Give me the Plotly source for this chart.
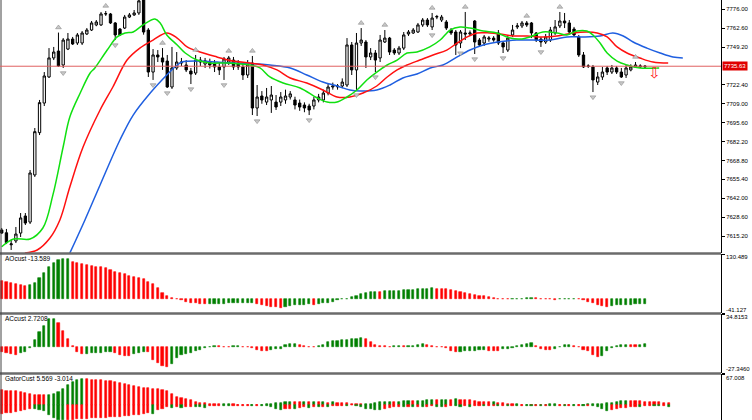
import plotly.graph_objects as go

W, H = 752, 420
AX = 721  # right axis pixel

# ---------------- DATA ----------------
opens = [7619.5,7617.5,7609.0,7611.7,7617.3,7629.4,7625.1,7658.5,7688.5,7709.5,
 7728.0,7741.5,7746.4,7736.5,7747.8,7754.9,7752.1,7752.1,7758.5,7761.3,
 7764.9,7764.9,7772.7,7772.7,7766.3,7762.0,7762.7,7770.5,7772.0,7773.4,
 7784.0,7761.3,7731.5,7743.6,7741.5,7739.3,7720.9,7734.4,7737.9,7736.5,
 7732.2,7730.8,7738.6,7737.2,7738.6,7737.9,7735.1,7735.1,7738.6,7740.0,
 7737.9,7735.1,7729.4,7737.9,7706.0,7714.5,7710.2,7711.7,7710.2,7710.2,
 7711.7,7713.8,7711.7,7709.5,7708.1,7707.4,7707.4,7711.7,7711.7,7716.6,
 7720.9,7721.0,7721.6,7722.3,7750.7,7733.0,7752.1,7752.8,7742.2,7745.0,
 7741.5,7752.8,7755.6,7747.1,7745.0,7748.5,7758.5,7759.2,7759.9,7764.9,
 7768.4,7763.5,7770.5,7768.4,7767.0,7761.3,7759.9,7752.1,7759.2,7758.5,
 7767.7,7754.2,7752.1,7754.9,7755.6,7759.2,7752.1,7747.1,7757.8,7763.5,
 7764.2,7766.3,7766.3,7759.2,7754.9,7752.8,7754.2,7759.2,7764.2,7767.7,
 7766.3,7762.0,7756.4,7743.6,7735.8,7735.1,7724.4,7728.0,7734.4,7731.5,
 7734.4,7731.5,7729.4,7733.0,7735.1,7735.1,7735.1]
highs = [7620.9,7620.2,7612.4,7621.6,7631.5,7631.5,7662.0,7691.8,7711.7,7731.5,
 7748.5,7749.3,7759.5,7755.6,7759.2,7756.4,7759.2,7760.6,7762.7,7767.7,
 7768.4,7774.1,7774.8,7773.4,7767.0,7762.7,7772.0,7773.4,7775.5,7785.0,
 7790.0,7762.7,7747.8,7747.1,7748.5,7743.6,7749.3,7745.7,7741.5,7740.0,
 7734.4,7743.6,7742.2,7741.5,7741.0,7740.0,7738.6,7742.2,7742.9,7742.2,
 7740.0,7737.9,7740.0,7742.9,7722.3,7718.0,7720.2,7721.6,7715.2,7717.3,
 7719.0,7718.0,7714.0,7712.0,7710.0,7709.0,7714.0,7716.0,7719.0,7723.0,
 7724.0,7723.0,7727.0,7755.6,7752.8,7759.2,7762.7,7754.2,7748.5,7747.1,
 7757.8,7761.3,7756.4,7748.5,7750.0,7759.9,7761.3,7762.7,7766.3,7769.8,
 7769.8,7773.4,7772.0,7772.0,7768.4,7762.7,7761.3,7761.3,7774.1,7761.0,
 7768.4,7755.6,7757.8,7757.0,7757.0,7761.3,7753.5,7757.8,7764.9,7766.3,
 7767.7,7767.7,7767.0,7759.9,7756.4,7758.5,7763.5,7768.4,7774.1,7773.4,
 7768.4,7763.5,7757.8,7745.7,7737.0,7736.5,7731.5,7735.1,7735.8,7736.5,
 7735.8,7734.4,7736.5,7737.0,7738.6,7737.0,7736.5]
lows = [7616.6,7609.5,7605.3,7610.2,7614.5,7623.0,7623.7,7657.1,7686.8,7707.4,
 7727.3,7740.0,7735.1,7734.4,7747.1,7750.7,7750.7,7750.7,7757.8,7760.6,
 7764.0,7764.2,7771.3,7765.6,7754.2,7757.1,7762.0,7769.8,7771.3,7772.0,
 7758.0,7728.0,7725.9,7738.6,7733.0,7720.2,7719.5,7733.0,7735.8,7731.5,
 7723.0,7729.4,7735.8,7734.4,7734.0,7731.5,7729.4,7725.9,7736.5,7733.0,
 7733.0,7725.9,7727.3,7701.0,7700.3,7709.0,7708.1,7702.5,7704.6,7707.4,
 7709.0,7712.0,7705.0,7704.0,7703.0,7701.0,7705.0,7710.0,7710.0,7715.0,
 7719.0,7719.0,7720.0,7720.9,7729.4,7718.8,7750.0,7734.4,7740.0,7731.5,
 7738.6,7752.1,7743.6,7743.6,7743.6,7747.1,7757.1,7758.5,7759.2,7763.5,
 7763.5,7761.3,7769.0,7767.0,7761.3,7757.8,7743.6,7748.5,7754.2,7757.0,
 7744.3,7749.3,7750.0,7753.0,7753.0,7750.7,7745.0,7745.7,7756.4,7762.0,
 7762.7,7763.5,7755.6,7752.8,7749.3,7751.4,7752.8,7757.8,7762.7,7762.7,
 7757.8,7756.4,7742.2,7734.4,7734.4,7717.3,7722.3,7725.9,7729.4,7730.1,
 7730.1,7727.3,7727.3,7732.0,7734.4,7734.4,7734.4]
closes = [7617.3,7610.5,7609.6,7616.6,7628.0,7624.4,7659.9,7689.2,7709.8,7728.7,
 7741.5,7745.7,7735.8,7754.2,7754.9,7751.4,7757.8,7759.2,7761.3,7766.3,
 7767.0,7772.7,7772.9,7766.3,7757.8,7757.8,7770.5,7772.0,7773.4,7782.0,
 7759.9,7731.5,7743.6,7742.2,7738.6,7720.9,7734.4,7738.6,7738.6,7733.0,
 7730.1,7740.0,7740.0,7739.5,7736.5,7735.1,7733.0,7740.8,7741.5,7735.1,
 7735.1,7729.4,7736.5,7706.0,7713.8,7711.7,7713.8,7715.2,7706.7,7713.8,
 7714.5,7716.0,7708.1,7706.7,7706.0,7704.6,7711.7,7713.8,7716.6,7720.9,
 7721.6,7721.6,7724.4,7750.7,7733.0,7752.1,7754.2,7742.2,7745.0,7740.0,
 7754.2,7755.6,7745.7,7745.0,7748.5,7757.8,7759.9,7761.3,7764.9,7768.4,
 7764.9,7769.8,7770.9,7770.5,7762.7,7759.2,7750.7,7759.9,7758.5,7759.2,
 7752.8,7750.7,7756.4,7755.6,7754.2,7752.1,7749.3,7755.6,7761.3,7764.2,
 7766.3,7764.9,7759.2,7754.2,7752.8,7756.4,7761.3,7763.5,7767.7,7766.3,
 7759.9,7757.8,7743.6,7735.1,7735.6,7725.9,7728.0,7731.5,7731.5,7734.4,
 7731.5,7728.0,7734.4,7735.1,7736.5,7735.8,7735.63]

fractal_up = [12, 22, 34, 41, 48, 53, 76, 81, 91, 98, 111, 118, 134]
fractal_down = [13, 24, 32, 35, 40, 47, 54, 65, 75, 79, 91, 97, 100, 106, 114, 125, 131]

# Alligator lines (bar position, price)
lips_x = [0, 2.5, 6.0, 8.7, 10.8, 13.0, 14.4, 16.6, 18.7, 19.7, 22.3, 24.4, 26.1, 27.8, 29.9,
          32.4, 33.5, 34.9, 37.1, 38.8, 41.3, 44.0, 47.6, 50.4, 52.5, 54.6, 56.7, 59.5, 63.1,
          66.7, 68.8, 70.9, 73.0, 75.1, 77.2, 79.3, 81.5, 83.6, 85.7, 87.8, 90.5, 92.7, 94.8,
          96.9, 99.0, 101.8, 104.7, 107.5, 109.6, 111.7, 114.4, 117.4, 119.5, 121.6, 123.7,
          125.0, 126.5, 128.0, 130.1, 132.2, 134.9, 139.0]
lips_y = [7607.6, 7613.1, 7613.1, 7620.9, 7644.0, 7678.5, 7699.6, 7716.6, 7730.8, 7734.4,
          7747.1, 7756.4, 7759.2, 7759.9, 7764.9, 7769.1, 7766.3, 7757.8, 7750.7, 7745.0,
          7740.0, 7737.9, 7737.9, 7737.2, 7736.5, 7734.4, 7728.0, 7723.7, 7720.2, 7713.1,
          7710.2, 7710.2, 7713.8, 7718.8, 7725.9, 7731.5, 7736.5, 7740.0, 7745.0, 7745.7,
          7749.3, 7754.2, 7761.3, 7763.5, 7762.7, 7760.6, 7759.2, 7755.6, 7754.9, 7756.4,
          7759.9, 7759.2, 7757.8, 7760.6, 7760.6, 7757.8, 7752.1, 7745.0, 7739.3, 7736.5,
          7734.4, 7734.4]
teeth_x = [4.9, 7.5, 10.2, 12.3, 14.4, 17.2, 20.8, 23.5, 26.5, 29.2, 32.0, 34.9, 37.1, 39.2,
           41.9, 45.5, 48.9, 52.5, 55.2, 58.2, 61.0, 64.5, 67.9, 70.9, 73.6, 76.4, 79.3, 81.5,
           83.6, 85.7, 88.4, 91.2, 94.1, 96.3, 98.4, 100.5, 103.2, 105.3, 108.1, 111.1, 114.4,
           117.4, 120.8, 123.7, 125.9, 128.0, 130.1, 132.2, 134.9, 137.7, 140.9]
teeth_y = [7603.1, 7605.3, 7613.8, 7626.6, 7650.0, 7678.3, 7704.6, 7720.9, 7740.0, 7748.5,
           7754.2, 7759.2, 7755.6, 7749.3, 7745.7, 7742.2, 7739.3, 7737.9, 7736.5, 7733.0,
           7727.3, 7723.7, 7718.8, 7713.8, 7713.8, 7716.6, 7721.6, 7728.0, 7733.0, 7736.5,
           7740.0, 7743.6, 7747.1, 7752.1, 7756.4, 7759.2, 7759.2, 7758.5, 7757.1, 7757.1,
           7756.4, 7757.1, 7759.2, 7759.9, 7759.2, 7756.4, 7749.3, 7745.0, 7741.5, 7738.6,
           7737.9]
jaw_x = [14.4, 17.6, 20.8, 25.0, 27.8, 31.4, 34.9, 37.1, 38.1, 41.9, 45.5, 48.9, 52.5, 56.7,
         61.0, 64.5, 67.9, 70.9, 73.6, 75.8, 79.3, 82.1, 84.8, 87.8, 90.6, 93.3, 96.3, 99.0,
         101.8, 104.9, 108.9, 112.3, 115.9, 119.5, 122.9, 126.5, 129.2, 131.4, 133.5, 136.4,
         139.2, 141.9, 144.0]
jaw_y = [7603.1, 7626.6, 7651.4, 7683.3, 7701.0, 7716.6, 7729.4, 7736.5, 7738.6, 7739.3,
         7738.6, 7737.9, 7737.6, 7736.5, 7734.4, 7729.4, 7724.4, 7721.6, 7718.8, 7718.1,
         7718.8, 7722.3, 7727.3, 7730.1, 7734.4, 7736.5, 7742.2, 7747.1, 7750.7, 7752.8,
         7754.2, 7754.2, 7754.2, 7756.4, 7756.4, 7757.1, 7759.2, 7757.1, 7752.8, 7748.5,
         7745.0, 7742.2, 7741.5]

ao = [52.0, 49.9, 45.0, 42.1, 40.2, 37.2, 40.2, 47.0, 59.6, 74.1,
      91.6, 103.2, 112.9, 114.9, 115.5, 108.1, 103.2, 100.3, 98.4, 95.4,
      93.5, 91.6, 88.7, 83.8, 78.9, 74.1, 71.2, 66.3, 64.4, 61.5,
      56.6, 49.9, 42.1, 30.4, 17.8, 8.1, 1.3, 0.3, -3.0, -8.4,
      -11.3, -13.3, -14.3, -15.2, -15.0, -14.5, -14.0, -13.5, -13.2, -13.0,
      -12.8, -12.6, -12.4, -12.2, -15.2, -18.1, -21.0, -23.0, -24.9, -25.4,
      -23.0, -20.1, -18.6, -18.1, -16.7, -16.2, -18.1, -15.2, -13.3, -11.3,
      -8.4, -3.5, -1.6, 0.3, 4.2, 8.1, 12.9, 17.8, 19.7, 20.2,
      19.7, 22.6, 23.1, 23.6, 24.1, 24.6, 25.0, 25.5, 27.5, 28.9,
      29.4, 30.4, 29.4, 28.5, 27.5, 26.5, 23.6, 18.8, 15.9, 12.9,
      11.0, 9.1, 7.6, 5.2, 1.3, 0.3, -1.0, -1.5, -1.0, -0.3,
      0.5, 1.5, 3.0, 2.0, 0.5, -0.5, -1.5, -2.0, -1.2, -0.5,
      0.3, 1.0, 0.5, -2.5, -8.4, -13.3, -18.1, -20.1, -23.0, -21.0,
      -19.1, -18.1, -17.2, -16.7, -16.2, -15.2, -13.589]
ac = [-5.7, -6.7, -7.8, -8.0, -6.7, -5.3, -0.5, 7.3, 16.1, 22.4,
      29.5, 29.7, 24.9, 16.8, 8.4, 1.0, -5.7, -7.8, -7.4, -6.7,
      -6.0, -5.8, -5.6, -5.4, -6.7, -8.5, -9.2, -9.3, -7.8, -6.0,
      -5.0, -5.7, -13.7, -17.2, -20.1, -20.8, -18.3, -12.0, -8.5, -7.8,
      -6.7, -4.3, -3.2, -1.4, 0.5, 1.4, 1.0, -0.0, -0.2, 0.7,
      1.0, -0.1, -0.4, -1.0, -2.8, -3.9, -4.2, -2.8, -2.5, -1.8,
      2.5, 3.2, 3.3, 2.5, 1.4, 0.3, -0.3, 0.7, 2.5, 5.6,
      6.7, 6.8, 7.0, 7.7, 8.4, 8.5, 9.5, 8.4, 4.9, 1.8,
      1.4, 0.8, 0.5, 0.7, 0.9, 0.6, 0.8, 1.2, 2.1, 2.9,
      2.1, 1.2, 0.5, -0.3, -1.4, -3.9, -5.6, -5.3, -4.6, -4.2,
      -3.9, -3.0, -2.8, -3.9, -4.0, -4.1, -1.8, -1.6, -0.5, 0.7,
      2.5, 3.5, 4.2, 1.4, -1.8, -2.8, -2.9, -1.8, 0.5, 2.5,
      2.6, 0.7, -0.3, -2.8, -4.6, -8.1, -10.5, -9.1, -4.6, -1.1,
      0.6, 1.8, 2.3, 2.1, 1.9, 2.3, 2.7208]
gator_up = [32.1, 31.5, 30.7, 29.9, 28.5, 27.1, 25.0, 22.8, 21.4, 21.0,
            22.8, 25.0, 28.5, 35.7, 42.8, 50.6, 55.0, 56.0, 55.6, 55.0,
            54.2, 53.5, 52.0, 51.3, 49.9, 48.5, 46.3, 44.2, 41.4, 39.2,
            37.8, 37.1, 35.7, 34.2, 32.1, 29.9, 25.0, 17.8, 15.7, 12.8,
            10.7, 7.1, 5.7, 5.0, 3.6, 2.9, 2.1, 2.3, 2.5, 2.1,
            1.4, 0.7, 0.5, 1.4, 0.7, 1.4, 2.1, 2.9, 4.3, 5.7,
            7.1, 7.8, 7.7, 7.1, 7.2, 6.4, 6.5, 6.4, 6.5, 5.7,
            6.4, 5.7, 5.0, 4.3, 3.6, 2.9, 2.1, 2.2, 3.6, 5.7,
            7.1, 7.8, 7.9, 7.8, 7.9, 8.6, 9.3, 9.2, 10.0, 10.1,
            10.7, 11.4, 11.3, 11.5, 12.1, 12.0, 12.8, 11.4, 11.3, 10.7,
            10.0, 7.8, 7.1, 6.4, 6.5, 5.7, 4.3, 2.9, 2.1, 2.2,
            1.4, 1.5, 0.7, 1.4, 1.3, 1.4, 2.1, 2.2, 1.4, 1.3,
            0.7, 0.8, 0.6, 1.4, 2.1, 2.9, 3.0, 3.6, 4.3, 5.0,
            7.1, 8.6, 9.3, 9.2, 8.6, 8.5, 7.8, 7.1, 6.4, 6.3,
            5.7, 5.569]
gator_dn = [-17.8, -16.4, -15.7, -14.3, -12.8, -10.7, -8.0, -8.6, -10.7, -12.1,
            -21.4, -27.1, -30.7, -32.5, -31.4, -30.7, -30.0, -29.3, -28.5, -28.0,
            -27.8, -27.1, -26.4, -25.7, -25.0, -24.2, -23.5, -22.1, -21.4, -20.0,
            -18.5, -16.4, -17.8, -9.3, -7.1, -4.3, -5.0, -3.6, -5.7, -4.3,
            -3.6, -3.7, -4.3, -5.0, -2.1, -2.0, -1.9, -2.1, -2.3, -1.8,
            -1.4, -0.7, -0.5, -0.7, -0.6, -1.4, -1.5, -4.3, -8.6, -10.0,
            -7.8, -7.1, -7.2, -5.7, -4.3, -5.0, -3.6, -3.7, -2.9, -3.0,
            -2.1, -1.4, -0.7, -0.8, -0.3, -0.7, -2.9, -7.1, -8.6, -10.0,
            -10.1, -8.6, -5.7, -4.3, -2.9, -3.6, -2.9, -4.3, -2.9, -3.6,
            -2.9, -2.1, -2.9, -4.3, -2.9, -1.4, -1.5, -2.9, -2.1, -2.9,
            -1.4, -0.7, -1.4, -1.3, -0.7, -0.8, -0.7, -0.8, -0.7, -1.4,
            -0.7, -0.8, -1.4, -0.7, -1.4, -0.7, -0.8, -1.4, -0.7, -0.8,
            -0.7, -1.4, -0.7, -0.8, -0.7, -2.1, -4.3, -8.6, -11.4, -10.0,
            -7.1, -5.7, -5.0, -3.6, -2.9, -3.0, -2.1, -1.4, -1.5, -2.1,
            -1.4, -3.014]

main_ticks = [7776.00, 7762.60, 7749.20, 7722.40, 7709.00, 7695.60, 7682.20,
              7668.80, 7655.40, 7642.00, 7628.60, 7615.20]
last_price = 7735.63
signal_bar = 138
signal_price = 7730.1
ao_range = [-41.127, 130.489]
ac_range = [-27.3460, 34.8153]
gator_top = 67.008

# ---------------- LAYOUT HELPERS ----------------
def xp(px):
    return px / W

def yp(py):
    return 1 - py / H

GREEN, RED = "#008000", "#ff0000"

def up_colors(vals):
    return [RED if i == 0 or vals[i] <= vals[i - 1] else GREEN for i in range(len(vals))]

def abs_colors(vals):
    return [RED if i == 0 or abs(vals[i]) <= abs(vals[i - 1]) else GREEN for i in range(len(vals))]

def hist(vals, colors, yaxis):
    return go.Bar(x=list(range(len(vals))), y=vals,
                  marker=dict(color=colors, line=dict(color=colors, width=0.6)),
                  width=0.45, showlegend=False, hoverinfo="skip", xaxis="x", yaxis=yaxis)

bars = list(range(len(opens)))
fig = go.Figure()

fig.add_trace(go.Candlestick(
    x=bars, open=opens, high=highs, low=lows, close=closes,
    increasing=dict(line=dict(color="black", width=1), fillcolor="white"),
    decreasing=dict(line=dict(color="black", width=1), fillcolor="black"),
    whiskerwidth=0, showlegend=False, hoverinfo="skip", xaxis="x", yaxis="y"))

for xs, ys, col in [(jaw_x, jaw_y, "#1f5fe0"), (teeth_x, teeth_y, "#ff1010"), (lips_x, lips_y, "#10e010")]:
    fig.add_trace(go.Scatter(x=xs, y=ys, mode="lines", line=dict(color=col, width=1.5, shape="spline"),
                             showlegend=False, hoverinfo="skip", xaxis="x", yaxis="y"))

fig.add_trace(go.Scatter(x=fractal_up, y=[highs[i] + 3.6 for i in fractal_up], mode="markers",
                         marker=dict(symbol="triangle-up", size=5, color="#c8c8c8",
                                     line=dict(color="#8a8a8a", width=0.6)),
                         showlegend=False, hoverinfo="skip", xaxis="x", yaxis="y"))
fig.add_trace(go.Scatter(x=fractal_down, y=[lows[i] - 3.6 for i in fractal_down], mode="markers",
                         marker=dict(symbol="triangle-down", size=5, color="#c8c8c8",
                                     line=dict(color="#8a8a8a", width=0.6)),
                         showlegend=False, hoverinfo="skip", xaxis="x", yaxis="y"))
fig.add_trace(go.Scatter(x=[signal_bar], y=[signal_price], mode="text", text=["⇩"],
                         textfont=dict(color="#ff2020", size=15, family="DejaVu Sans"),
                         showlegend=False, hoverinfo="skip", xaxis="x", yaxis="y"))

fig.add_trace(hist(ao, up_colors(ao), "y2"))
fig.add_trace(hist(ac, up_colors(ac), "y3"))
fig.add_trace(hist(gator_up, up_colors(gator_up), "y4"))
fig.add_trace(hist(gator_dn, abs_colors(gator_dn), "y4"))

# pixel rows of each pane
main_px, ao_px, ac_px, gt_px = (0, 253), (254, 313), (314, 373), (374, 420)
gator_bottom = -gator_top * (gt_px[1] - gt_px[0] - 31.3) / 31.3
price_top = 7782.6
price_bottom = 7603.15

tickfont = dict(family="Liberation Sans", size=6, color="black")
axis_common = dict(side="right", showgrid=False, zeroline=False, showline=True, linecolor="black",
                   linewidth=1, ticks="outside", ticklen=3, tickcolor="black", tickwidth=1,
                   fixedrange=True, anchor="x", tickfont=tickfont)

fig.update_layout(
    width=W, height=H, margin=dict(l=0, r=0, t=0, b=0),
    paper_bgcolor="white", plot_bgcolor="white", barmode="overlay", bargap=0,
    font=dict(family="Liberation Sans", size=6, color="black"),
    xaxis=dict(domain=[0, xp(AX)], range=[-0.36, 152.07], visible=False, showgrid=False,
               rangeslider=dict(visible=False), fixedrange=True, anchor="y"),
    yaxis=dict(domain=[yp(main_px[1]), yp(main_px[0])], range=[price_bottom, price_top],
               tickvals=main_ticks, ticktext=[f"{v:.2f}" for v in main_ticks], **axis_common),
    yaxis2=dict(domain=[yp(ao_px[1]), yp(ao_px[0])], range=ao_range,
                tickvals=ao_range, ticktext=["", ""], **axis_common),
    yaxis3=dict(domain=[yp(ac_px[1]), yp(ac_px[0])], range=ac_range,
                tickvals=ac_range, ticktext=["", ""], **axis_common),
    yaxis4=dict(domain=[0, yp(gt_px[0])], range=[gator_bottom, gator_top],
                tickvals=[gator_top], ticktext=[""], **axis_common),
)

shapes = []
for sep in (253.5, 313.5, 373.5):
    shapes.append(dict(type="line", xref="paper", yref="paper", x0=0, x1=xp(AX), y0=yp(sep), y1=yp(sep),
                       line=dict(color="#6b6b6b", width=2.5)))
shapes.append(dict(type="line", xref="paper", yref="paper", x0=xp(1), x1=xp(1), y0=0, y1=1,
                   line=dict(color="#444444", width=1)))
shapes.append(dict(type="line", xref="paper", yref="y", x0=0, x1=xp(AX), y0=last_price, y1=last_price,
                   line=dict(color="#e06060", width=1)))
fig.update_layout(shapes=shapes)

ann = []
ann.append(dict(xref="paper", yref="y", x=xp(AX + 1), y=last_price, xanchor="left", yanchor="middle",
                text=f"{last_price:.2f}", showarrow=False, bgcolor="#e00000", borderpad=1,
                font=dict(family="Liberation Sans", size=6, color="white")))
side_labels = [(f"{ao_range[1]:.3f}", 257), (f"{ao_range[0]:.3f}", 310),
               (f"{ac_range[1]:.4f}", 317), (f"{ac_range[0]:.4f}", 369),
               (f"{gator_top:.3f}", 377.5)]
for txt, py in side_labels:
    ann.append(dict(xref="paper", yref="paper", x=xp(AX + 3), y=yp(py), xanchor="left", yanchor="middle",
                    text=txt, showarrow=False, font=tickfont))
pane_labels = [(f"AOcust {ao[-1]:.3f}", 258.5), (f"ACcust {ac[-1]:.4f}", 318.5),
               (f"GatorCust {gator_up[-1]:.3f} {gator_dn[-1]:.3f}", 378.5)]
for txt, py in pane_labels:
    ann.append(dict(xref="paper", yref="paper", x=xp(3), y=yp(py), xanchor="left", yanchor="middle",
                    text=txt, showarrow=False, font=dict(family="Liberation Sans", size=6.5, color="black")))
fig.update_layout(annotations=ann)

fig.write_html("out.html", config={"displayModeBar": False},
               post_script="document.body.style.margin='0px';document.body.style.padding='0px';")
